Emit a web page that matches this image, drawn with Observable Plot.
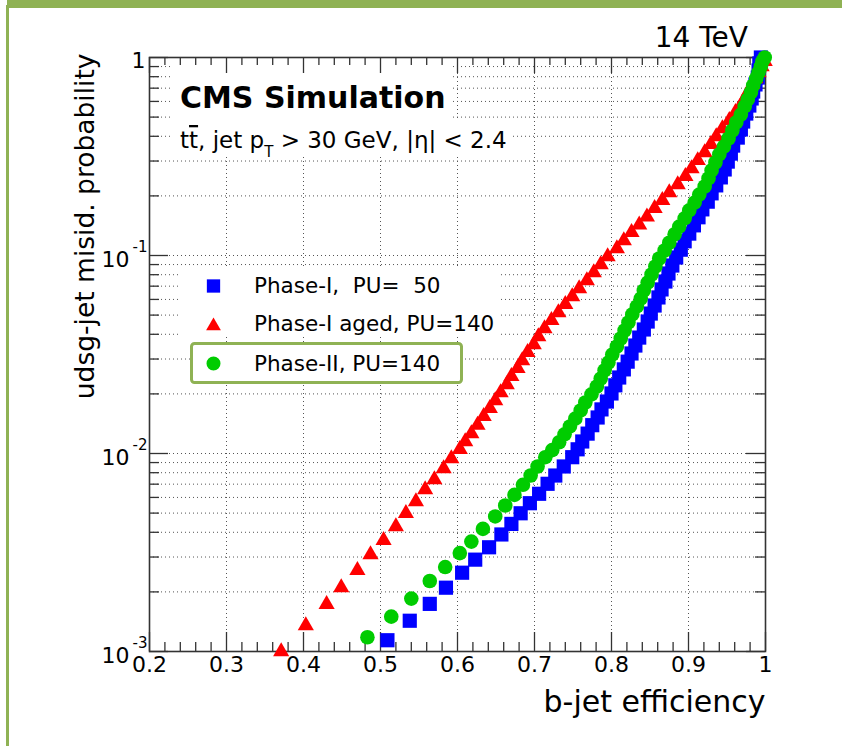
<!DOCTYPE html>
<html>
<head>
<meta charset="utf-8">
<script src="https://cdn.jsdelivr.net/npm/d3@7"></script>
<script src="https://cdn.jsdelivr.net/npm/@observablehq/plot@0.6"></script>
<style>
html,body{margin:0;padding:0;background:#fff;}
#page{position:relative;width:842px;height:746px;overflow:hidden;background:#fff;}
#chart{position:absolute;left:0;top:0;}
.bar{position:absolute;background:#8fb254;}
</style>
</head>
<body>
<div id="page">
  <div id="chart"></div>
  <div class="bar" style="left:7px;top:0;width:835px;height:8px"></div>
  <div class="bar" style="left:6px;top:5px;width:3px;height:741px"></div>
</div>
<script>
// ---------------- data ----------------
const seriesNames = ["Phase-I,  PU=  50", "Phase-I aged, PU=140", "Phase-II, PU=140"];
const seriesColors = ["#0000ff", "#ff0000", "#00cc00"];

// Phase-I, PU=50 (blue squares)
const phase1Eff = [0.509,0.538,0.564,0.585,0.606,0.623,0.641,0.657,0.670,0.682,0.694,0.706,0.717,0.727,0.738,0.749,
  0.756,0.762,0.769,0.775,0.782,0.787,0.794,0.800,0.805,0.810,0.816,0.821,0.826,0.831,0.836,0.842,0.847,0.851,0.856,
  0.861,0.865,0.870,0.874,0.879,0.884,0.890,0.895,0.901,0.907,0.913,0.918,0.925,0.930,0.936,0.942,0.947,0.951,0.955,
  0.958,0.964,0.968,0.971,0.975,0.979,0.982,0.984,0.987,0.990,0.991,0.992,0.994];
const phase1Mis = [0.00114,0.00143,0.00174,0.00210,0.00250,0.00291,0.00336,0.00390,0.00441,0.00499,0.00561,0.00626,
  0.00703,0.00774,0.00860,0.00958,0.0105,0.0115,0.0126,0.0139,0.0152,0.0167,0.0183,0.0201,0.0221,0.0242,0.0266,0.0291,
  0.0320,0.0351,0.0385,0.0423,0.0464,0.0509,0.0559,0.0614,0.0674,0.0739,0.0811,0.0890,0.0977,0.107,0.118,0.129,0.142,
  0.156,0.171,0.187,0.206,0.226,0.248,0.272,0.298,0.327,0.359,0.394,0.433,0.475,0.521,0.572,0.621,0.673,0.731,0.792,
  0.860,0.933,1.00];

// Phase-I aged, PU=140 (red triangles)
const agedEff = [0.371,0.403,0.430,0.449,0.470,0.487,0.504,0.520,0.533,0.546,0.558,0.570,0.582,0.592,0.603,0.610,
  0.618,0.626,0.634,0.642,0.649,0.656,0.664,0.670,0.678,0.684,0.691,0.699,0.705,0.713,0.722,0.731,0.740,0.749,0.758,
  0.768,0.777,0.786,0.795,0.807,0.816,0.826,0.836,0.846,0.856,0.866,0.875,0.886,0.896,0.904,0.912,0.921,0.929,0.936,
  0.944,0.953,0.961,0.968,0.973,0.978,0.983,0.987,0.991,0.995,0.999];
const agedMis = [0.00100,0.00135,0.00173,0.00210,0.00257,0.00309,0.00364,0.00428,0.00498,0.00572,0.00658,0.00739,
  0.00840,0.00943,0.0105,0.0115,0.0126,0.0139,0.0154,0.0169,0.0185,0.0203,0.0223,0.0245,0.0269,0.0295,0.0324,0.0355,
  0.0390,0.0428,0.0470,0.0515,0.0566,0.0621,0.0681,0.0748,0.0821,0.0901,0.0988,0.1085,0.119,0.131,0.143,0.157,0.173,
  0.190,0.208,0.228,0.251,0.275,0.302,0.331,0.364,0.399,0.438,0.481,0.528,0.572,0.621,0.673,0.731,0.783,0.840,0.901,0.955];

// Phase-II, PU=140 (green circles)
const phase2Eff = [0.483,0.514,0.540,0.564,0.584,0.603,0.618,0.633,0.649,0.662,0.674,0.685,0.695,0.704,0.714,0.723,
  0.732,0.739,0.746,0.753,0.760,0.766,0.774,0.781,0.786,0.791,0.796,0.801,0.807,0.812,0.817,0.822,0.827,0.833,0.838,
  0.842,0.847,0.852,0.857,0.862,0.869,0.875,0.882,0.888,0.895,0.901,0.908,0.914,0.921,0.926,0.930,0.935,0.940,0.946,
  0.952,0.957,0.962,0.968,0.973,0.977,0.981,0.984,0.988,0.991,0.994,0.996,0.999];
const phase2Mis = [0.00118,0.00150,0.00185,0.00227,0.00267,0.00314,0.00359,0.00416,0.00481,0.00546,0.00618,0.00695,
  0.00774,0.00860,0.00958,0.0104,0.0114,0.0125,0.0137,0.0150,0.0165,0.0181,0.0199,0.0218,0.0239,0.0263,0.0288,0.0316,
  0.0347,0.0381,0.0418,0.0459,0.0504,0.0553,0.0606,0.0666,0.0730,0.0802,0.0880,0.0966,0.106,0.116,0.128,0.140,0.154,
  0.169,0.185,0.203,0.223,0.245,0.269,0.295,0.324,0.355,0.390,0.428,0.470,0.515,0.566,0.614,0.666,0.722,0.783,0.840,
  0.901,0.955,1.00];

// axes / labels
const xTickValues = [0.2,0.3,0.4,0.5,0.6,0.7,0.8,0.9,1.0];
const xTickLabels = ["0.2","0.3","0.4","0.5","0.6","0.7","0.8","0.9","1"];
const yTickValues = [0.001,0.01,0.1,1];
const yTickExp = ["-3","-2","-1"];
const xLabel = "b-jet efficiency";
const yLabel = "udsg-jet misid. probability";
const energyLabel = "14 TeV";
const cmsLabel = "CMS Simulation";

// ---------------- layout ----------------
const W = 842, H = 746, mL = 149, mR = 77, mT = 57, mB = 95;
const xDomain = [0.2, 1], yDomain = [0.001, 1];
const plotW = W - mL - mR, plotH = H - mT - mB;
const pxDec = plotH / Math.log10(yDomain[1] / yDomain[0]);
const xLen = px => px * (xDomain[1] - xDomain[0]) / plotW;
const yFac = px => Math.pow(10, px / pxDec);

const xMinor = d3.range(10, 51).filter(k => k % 5 !== 0).map(k => k / 50);
const yMinor = [-3, -2, -1].flatMap(e => d3.range(2, 10).map(m => m * Math.pow(10, e)));
const yGrid = yMinor.concat([0.01, 0.1]);
const xGrid = xTickValues.slice(1, -1);

const rows = (eff, mis) => eff.map((e, i) => ({eff: e, mis: mis[i]}));
const blueRows = rows(phase1Eff, phase1Mis);
const redRows = rows(agedEff, agedMis);
const greenRows = rows(phase2Eff, phase2Mis);

const FONT = "DejaVu Sans";
const tickStyle = {stroke: "#333", strokeWidth: 1.3};
const gridStyle = {stroke: "#555", strokeWidth: 1, strokeDasharray: "1,3"};
const markerR = {square: 8, triangle: 6, circle: 7.3};

function boxes() {
  const g = d3.create("svg:g");
  g.append("rect").attr("x", 173).attr("y", 60).attr("width", 279).attr("height", 58).attr("fill", "#fff");
  g.append("rect").attr("x", 173).attr("y", 118).attr("width", 339).attr("height", 39).attr("fill", "#fff");
  g.append("rect").attr("x", 178).attr("y", 268).attr("width", 320).attr("height", 68).attr("fill", "#fff");
  return g.node();
}

function annotations() {
  const g = d3.create("svg:g").attr("font-family", FONT).attr("fill", "#000").attr("text-anchor", "start");
  g.append("text").attr("x", 748).attr("y", 47).attr("text-anchor", "end").attr("font-size", 28).text(energyLabel);
  g.append("text").attr("x", 180).attr("y", 108).attr("font-size", 30).attr("font-weight", "bold").text(cmsLabel);
  const sub = g.append("text").attr("x", 180).attr("y", 148).attr("font-size", 23);
  sub.append("tspan").text("t");
  sub.append("tspan").attr("text-decoration", "overline").text("t");
  sub.append("tspan").text(", jet p");
  sub.append("tspan").attr("font-size", 15).attr("dy", 9).text("T");
  sub.append("tspan").attr("dy", -9).text(" > 30 GeV, |\u03b7| < 2.4");
  // legend
  g.append("rect").attr("x", 191.5).attr("y", 343.5).attr("width", 270).attr("height", 39).attr("rx", 3)
    .attr("fill", "#fff").attr("stroke", "#8fb254").attr("stroke-width", 3);
  const legY = [286, 326, 363.5], legBase = [292.5, 331, 370.5];
  const syms = [d3.symbolSquare, d3.symbolTriangle, d3.symbolCircle];
  const sizes = [177, 95, 154];
  seriesNames.forEach((name, i) => {
    g.append("path").attr("transform", `translate(213.5,${legY[i]})`)
      .attr("d", d3.symbol(syms[i], sizes[i])()).attr("fill", seriesColors[i]);
    g.append("text").attr("x", 254).attr("y", legBase[i]).attr("font-size", 21.5)
      .style("white-space", "pre").text(name);
  });
  return g.node();
}

const chart = Plot.plot({
  width: W, height: H,
  marginLeft: mL, marginRight: mR, marginTop: mT, marginBottom: mB,
  style: {fontFamily: FONT, background: "#fff", overflow: "visible"},
  x: {domain: xDomain, axis: null},
  y: {type: "log", domain: yDomain, axis: null},
  marks: [
    Plot.ruleY(yGrid, {y: d => d, ...gridStyle}),
    Plot.ruleX(xGrid, {x: d => d, ...gridStyle}),
    boxes,
    Plot.ruleX(xTickValues, {x: d => d, y1: yDomain[0], y2: yDomain[0] * yFac(19), ...tickStyle}),
    Plot.ruleX(xMinor, {x: d => d, y1: yDomain[0], y2: yDomain[0] * yFac(9), ...tickStyle}),
    Plot.ruleX(xTickValues, {x: d => d, y1: yDomain[1], y2: yDomain[1] / yFac(16), ...tickStyle}),
    Plot.ruleX(xMinor, {x: d => d, y1: yDomain[1], y2: yDomain[1] / yFac(8), ...tickStyle}),
    Plot.ruleY(yTickValues, {y: d => d, x1: xDomain[0], x2: xDomain[0] + xLen(19), ...tickStyle}),
    Plot.ruleY(yMinor, {y: d => d, x1: xDomain[0], x2: xDomain[0] + xLen(10), ...tickStyle}),
    Plot.ruleY(yTickValues, {y: d => d, x1: xDomain[1], x2: xDomain[1] - xLen(19), ...tickStyle}),
    Plot.ruleY(yMinor, {y: d => d, x1: xDomain[1], x2: xDomain[1] - xLen(10), ...tickStyle}),
    Plot.frame({stroke: "#333", strokeWidth: 1.6}),
    Plot.dot(blueRows, {x: "eff", y: "mis", symbol: "square", r: markerR.square, fill: seriesColors[0], stroke: "none"}),
    Plot.dot(redRows, {x: "eff", y: "mis", symbol: "triangle", r: markerR.triangle, fill: seriesColors[1], stroke: "none"}),
    Plot.dot(greenRows, {x: "eff", y: "mis", symbol: "circle", r: markerR.circle, fill: seriesColors[2], stroke: "none"}),
    Plot.text(xTickValues.map((v, i) => ({v, t: xTickLabels[i]})), {x: "v", text: "t", frameAnchor: "bottom", dy: 20, fontSize: 22}),
    Plot.text([1], {y: d => d, text: () => "1", frameAnchor: "left", textAnchor: "end", dx: -4, dy: 3, fontSize: 22}),
    Plot.text(yTickValues.slice(0, 3), {y: d => d, text: () => "10", frameAnchor: "left", textAnchor: "end", dx: -20, dy: 4, fontSize: 22}),
    Plot.text(yTickValues.slice(0, 3).map((v, i) => ({v, t: yTickExp[i]})), {y: "v", text: "t", frameAnchor: "left", textAnchor: "start", dx: -17, dy: -8, fontSize: 15}),
    Plot.text([xLabel], {frameAnchor: "bottom-right", textAnchor: "end", dy: 60, fontSize: 30}),
    Plot.text([yLabel], {frameAnchor: "top-left", textAnchor: "end", rotate: -90, dx: -74, dy: -4, fontSize: 26.5}),
    annotations
  ]
});
document.getElementById("chart").appendChild(chart);
</script>
</body>
</html>
